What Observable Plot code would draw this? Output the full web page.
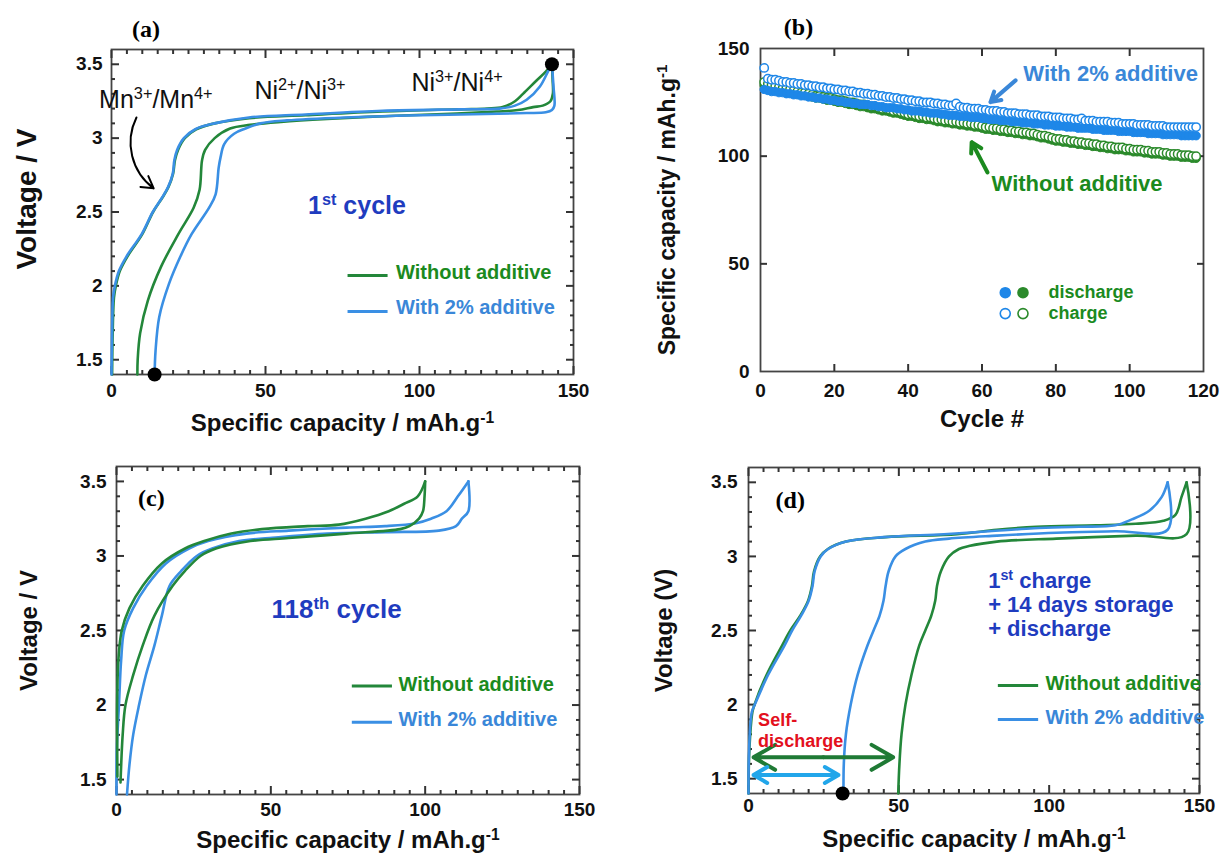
<!DOCTYPE html>
<html><head><meta charset="utf-8">
<script src="https://cdn.jsdelivr.net/npm/d3@7"></script>
<script src="https://cdn.jsdelivr.net/npm/@observablehq/plot@0.6"></script>
<style>
body{margin:0;background:#fff;}
#fig{position:relative;width:1220px;height:856px;overflow:hidden;background:#fff;}
.panel{position:absolute;}
.panel svg{display:block;max-width:none;overflow:visible;}
g[aria-label="x-axis label"], g[aria-label="y-axis label"]{font-size:24px;}
#pa g[aria-label="y-axis label"]{font-size:28px;}
#pb g[aria-label="y-axis label"]{font-size:23px;}
</style></head><body>
<div id="fig">
<div class="panel" id="pa" style="left:0;top:0"></div>
<div class="panel" id="pb" style="left:600px;top:0"></div>
<div class="panel" id="pc" style="left:0;top:430px"></div>
<div class="panel" id="pd" style="left:600px;top:430px"></div>
</div>
<script>
// ---------- colours / fonts ----------
const FONT = "'Liberation Sans', Arial, sans-serif";
const SERIF = "'Liberation Serif', 'Times New Roman', serif";
const GREEN = "#23873a", BLUE = "#3a8fe4", GREEN_T = "#1b8a1e", BLUE_T = "#3a87d8", NAVY = "#1f3cbf", RED = "#e3101d";
const BLUE_M = "#1e87e8", GREEN_M = "#2b8a2b";
const AXIS = "#333";

// ---------- tick labels ----------
const capTicks = [0, 50, 100, 150];
const voltTicks = [1.5, 2, 2.5, 3, 3.5];
const cycleTicks = [0, 20, 40, 60, 80, 100, 120];
const capTicksB = [0, 50, 100, 150];

// ---------- (a) 1st cycle: [capacity mAh/g, voltage V] ----------
const a_green_charge = [[0.2,1.4],[0.4,1.7],[0.8,1.92],[1.4,2.0],[2.7,2.1],[5.2,2.2],[10,2.35],[13.5,2.5],[16.6,2.6],[18.5,2.67],[20,2.76],[20.6,2.85],[21.6,2.92],[23.8,3.0],[27.5,3.06],[33.5,3.1],[44.7,3.135],[63,3.155],[88,3.18],[113,3.195],[122,3.2],[127,3.21],[131,3.25],[133.6,3.3],[138,3.39],[141,3.45],[143,3.5]];
const a_blue_charge = [[0,1.4],[0.2,1.7],[0.5,1.92],[1.1,2.0],[2.4,2.1],[4.9,2.2],[9.8,2.35],[13.4,2.5],[16.5,2.6],[18.4,2.67],[19.9,2.76],[20.4,2.85],[21.3,2.92],[23.5,3.0],[27.2,3.06],[33.4,3.1],[44.6,3.14],[63,3.16],[88,3.185],[113,3.195],[126,3.2],[131,3.22],[134.8,3.26],[139.1,3.35],[141.7,3.45],[143,3.5]];
const a_green_discharge = [[143,3.5],[143.2,3.4],[143.3,3.3],[142.5,3.25],[140,3.22],[136.9,3.21],[132,3.19],[125,3.18],[110,3.165],[90,3.15],[70,3.13],[55,3.11],[45,3.09],[38.5,3.065],[33.5,3.0],[30.4,2.92],[29.4,2.85],[28.6,2.65],[26.7,2.53],[21.7,2.35],[16.1,2.13],[11.8,1.9],[9.3,1.68],[8.5,1.5],[8.4,1.4]];
const a_blue_discharge = [[143,3.5],[143.5,3.35],[143.8,3.22],[143,3.19],[141,3.175],[135,3.17],[125.5,3.165],[100.6,3.155],[75.8,3.14],[57,3.12],[48.4,3.1],[43.5,3.065],[39.8,3.03],[36.6,2.96],[35.4,2.87],[34.8,2.8],[33.8,2.62],[31.7,2.53],[26,2.35],[22.4,2.2],[18.6,2.01],[15.5,1.79],[14.3,1.56],[14,1.4]];
const a_points = [[14,1.4],[143,3.5]];

// ---------- (b) capacity vs cycle, cycles 1..118 ----------
const b_blue_charge = [141,136,135.5,135.5,135,134.5,134.5,134,134,133.5,
 133.5,133,133,132.5,132.5,132,132,131.5,131.5,131,
 131,130.5,130.5,130,130,129.5,129.5,129,129,128.5,
 128.5,128,128,127.5,127.5,127,127,126.5,126.5,126,
 126,125.5,125.5,125,125,125,124.5,124.5,124,124,
 123.5,123.5,124.5,123,122.5,122.5,122,122,122,121.5,
 121.5,121,121,121,120.5,120.5,120,120,120,119.5,
 119.5,119.5,119,119,119,118.5,118.5,118.5,118,118,
 118,117.5,117.5,117.5,117,117,117.5,116.5,116.5,116.5,
 116,116,116,116,115.5,115.5,115.5,115,115,115,
 115,114.5,114.5,114.5,114.5,114,114,114,114,113.5,
 113.5,113.5,113.5,113.5,113.5,113.5,113.5,113.5];
const b_blue_discharge = [131,130.5,130,130,129.5,129.5,129,129,128.5,128.5,
 128,128,127.5,127.5,127,127,126.5,126.5,126,126,
 125.5,125.5,125,125,124.5,124.5,124,124,124,123.5,
 123.5,123,123,122.5,122.5,122.5,122,122,121.5,121.5,
 121,121,121,120.5,120.5,120,120,120,119.5,119.5,
 119,119,119,118.5,118.5,118.5,118,118,118,117.5,
 117.5,117,117,117,116.5,116.5,116.5,116,116,116,
 115.5,115.5,115.5,115,115,115,114.5,114.5,114.5,114,
 114,114,113.5,113.5,113.5,113,113,113,113,112.5,
 112.5,112.5,112,112,112,112,111.5,111.5,111.5,111.5,
 111,111,111,111,110.5,110.5,110.5,110.5,110,110,
 110,110,110,109.5,109.5,109.5,109.5,109.5];
const b_green_discharge = [133,132.5,132,131.5,131,130.5,130.5,130,129.5,129,
 128.5,128.5,128,127.5,127,127,126.5,126,126,125.5,
 125,125,124.5,124,124,123.5,123,123,122.5,122,
 122,121.5,121,121,120.5,120,120,119.5,119,118.5,
 118.5,118,117.5,117.5,117,117,116.5,116,116,115.5,
 115.5,115,115,114.5,114.5,114,114,113.5,113.5,113,
 112.5,112.5,112,112,111.5,111.5,111,111,110.5,110.5,
 110,110,109.5,109.5,109,108.5,108.5,108,107.5,107,
 107,106.5,106.5,106,106,105.5,105.5,105,105,104.5,
 104.5,104,104,103.5,103.5,103,103,103,102.5,102.5,
 102,102,102,101.5,101.5,101,101,101,100.5,100.5,
 100,100,100,99.5,99.5,99.5,99,99];
const b_green_charge = [134.5,133.5,133,132.5,132,131.5,131.5,131,130.5,130,
 129.5,129.5,129,128.5,128,128,127.5,127,127,126.5,
 126,126,125.5,125,125,124.5,124,124,123.5,123,
 123,122.5,122,122,121.5,121,121,120.5,120,119.5,
 119.5,119,118.5,118.5,118,118,117.5,117,117,116.5,
 116.5,116,116,115.5,115.5,115,115,114.5,114.5,114,
 113.5,113.5,113,113,112.5,112.5,112,112,111.5,111.5,
 111,111,110.5,110.5,110,109.5,109.5,109,108.5,108,
 108,107.5,107.5,107,107,106.5,106.5,106,106,105.5,
 105.5,105,105,104.5,104.5,104,104,104,103.5,103.5,
 103,103,103,102.5,102.5,102,102,102,101.5,101.5,
 101,101,101,100.5,100.5,100.5,100,100];

// ---------- (c) 118th cycle ----------
const c_green_charge = [[0.3,1.52],[0.2,1.8],[0.2,2.0],[0.6,2.3],[1.7,2.5],[4.2,2.65],[8.5,2.8],[14.7,2.95],[22.2,3.05],[28.4,3.1],[37.2,3.15],[47.1,3.18],[62,3.2],[72,3.21],[80.7,3.25],[88.2,3.3],[93.2,3.35],[97.6,3.4],[100,3.5]];
const c_green_discharge = [[100,3.5],[99.8,3.4],[99.3,3.3],[98,3.25],[94.9,3.2],[91.9,3.18],[74.5,3.15],[55.8,3.12],[43.4,3.1],[32.2,3.05],[27.2,3.0],[22.2,2.9],[18.2,2.8],[12.3,2.6],[8.5,2.4],[5.4,2.2],[2.9,2.0],[2.0,1.8],[1.3,1.48]];
const c_blue_charge = [[0,1.4],[0.1,1.7],[0.8,2.0],[1.5,2.3],[2.5,2.5],[5.4,2.65],[9.8,2.8],[16,2.95],[23.5,3.05],[29.7,3.1],[42.1,3.15],[55.8,3.17],[74.5,3.19],[87,3.2],[97,3.22],[101.9,3.25],[106.9,3.3],[110.6,3.4],[114,3.5]];
const c_blue_discharge = [[114,3.5],[114,3.3],[111.9,3.25],[110,3.2],[104.4,3.17],[87,3.16],[68.3,3.15],[49.6,3.12],[39.7,3.1],[31,3.05],[26,3.0],[21,2.9],[17.2,2.8],[14.7,2.6],[12.3,2.4],[9.5,2.2],[7.3,2.0],[5.4,1.8],[4.2,1.6],[3.4,1.4]];

// ---------- (d) 1st charge + 14 days storage + discharge ----------
const d_green_charge = [[0,1.4],[0.3,1.7],[1.3,1.95],[2,2.0],[6,2.2],[11.2,2.4],[13.9,2.5],[17.2,2.6],[19.8,2.7],[21.1,2.8],[21.8,2.9],[23.8,3.0],[26.4,3.05],[32.4,3.1],[45.6,3.13],[69.4,3.15],[82.6,3.18],[95.8,3.2],[115.6,3.21],[128.8,3.22],[138,3.24],[142,3.28],[144,3.4],[145.7,3.5]];
const d_green_discharge = [[145.7,3.5],[145.7,3.15],[128.8,3.14],[102.4,3.12],[82.6,3.1],[73.3,3.07],[70,3.05],[66.7,3.0],[64,2.9],[62.7,2.8],[62.1,2.7],[60.8,2.6],[58.8,2.5],[56.8,2.4],[54.2,2.2],[52.2,2.0],[50.9,1.8],[50.2,1.6],[49.8,1.4]];
const d_blue_charge = [[0,1.4],[0.2,1.7],[1.1,1.95],[2.1,2.0],[6.5,2.2],[12,2.4],[14.5,2.5],[17.5,2.6],[20,2.7],[21.3,2.8],[22,2.9],[24,3.0],[26.5,3.05],[32.5,3.1],[45,3.13],[65,3.15],[80,3.17],[95,3.19],[110,3.2],[122,3.21],[127.5,3.25],[133.4,3.31],[137.4,3.4],[139.4,3.5]];
const d_blue_discharge = [[139.4,3.5],[139.4,3.18],[122,3.17],[102.4,3.16],[82.6,3.14],[66.7,3.12],[58.8,3.1],[52.2,3.05],[48.9,3.0],[46.6,2.9],[45.6,2.8],[44.9,2.7],[43.6,2.6],[41.6,2.5],[39.6,2.4],[36.3,2.2],[34,2.0],[32.4,1.8],[31.7,1.6],[31.6,1.4]];
const d_points = [[31.3,1.4]];
const d_selfDischarge = [{end:49.8, v:1.644, color:"#1f7a35"}, {end:31.6, v:1.525, color:"#22a6ea"}];

// ---------- helpers ----------
// inward frame ticks on all four sides: axes with negative tick size and no text
function frameTicks({xMaj, xMin = [], yMaj, yMin = [], maj = 8, mnr = 4}) {
  const o = {label: null, fill: "none", stroke: AXIS, strokeWidth: 2};
  const m = [];
  for (const anchor of ["bottom", "top"]) {
    m.push(Plot.axisX({...o, anchor, ticks: xMaj, tickSize: -maj}));
    if (xMin.length) m.push(Plot.axisX({...o, anchor, ticks: xMin, tickSize: -mnr}));
  }
  for (const anchor of ["left", "right"]) {
    m.push(Plot.axisY({...o, anchor, ticks: yMaj, tickSize: -maj}));
    if (yMin.length) m.push(Plot.axisY({...o, anchor, ticks: yMin, tickSize: -mnr}));
  }
  return m;
}
const xMinorCap = d3.range(5, 150, 5).filter(d => d % 50 !== 0);
const yMinorV = d3.range(15, 36).map(d => d / 10).filter(d => Math.round(d * 10) % 5 !== 0);
const line = (arr, stroke, w = 2.6) => Plot.line(arr, {x: d => d[0], y: d => d[1], stroke, strokeWidth: w, curve: "catmull-rom"});
const baseStyle = {fontFamily: FONT, fontSize: "19px", fontWeight: "bold", color: "#111", background: "transparent", overflow: "visible"};

function supify(root) {
  root.querySelectorAll("text, tspan").forEach(el => {
    if (el.children.length) return;
    const s = el.textContent;
    if (!s.includes("^{")) return;
    el.textContent = "";
    for (const p of s.split(/(\^\{[^}]*\})/)) {
      if (!p) continue;
      const t = document.createElementNS("http://www.w3.org/2000/svg", "tspan");
      if (p.startsWith("^{")) {
        t.textContent = p.slice(2, -1);
        t.setAttribute("baseline-shift", "super");
        t.setAttribute("font-size", "65%");
      } else t.textContent = p;
      el.appendChild(t);
    }
  });
}
function legend(rows, x1, x2, xt, size = 20) {
  return [
    Plot.ruleY(rows, {y: "ly", x1: () => x1, x2: () => x2, stroke: "c", strokeWidth: 3}),
    Plot.text(rows, {x: () => xt, y: "ty", text: "label", fill: "tc", textAnchor: "start", fontSize: size, fontWeight: "bold", fontFamily: FONT})
  ];
}

// ---------- (a) ----------
{
  const notes = [
    {x: 14.4, y: 3.26, t: "Mn^{3+}/Mn^{4+}"},
    {x: 61.2, y: 3.32, t: "Ni^{2+}/Ni^{3+}"},
    {x: 112.2, y: 3.37, t: "Ni^{3+}/Ni^{4+}"}
  ];
  const leg = [
    {ly: 2.07, ty: 2.09, label: "Without additive", c: GREEN, tc: GREEN_T},
    {ly: 1.826, ty: 1.853, label: "With 2% additive", c: BLUE, tc: BLUE_T}
  ];
  const p = Plot.plot({
    width: 600, height: 430, marginLeft: 111, marginRight: 27, marginTop: 49, marginBottom: 56,
    x: {domain: [0, 150]}, y: {domain: [1.4, 3.6]}, style: baseStyle,
    marks: [
      Plot.frame({stroke: "#444", strokeWidth: 1.8}),
      ...frameTicks({xMaj: capTicks, xMin: xMinorCap, yMaj: voltTicks, yMin: yMinorV}),
      Plot.axisX({ticks: capTicks, tickSize: 0, tickPadding: 9, tickFormat: d => d, fontSize: 19,
        label: "Specific capacity / mAh.g^{-1}", labelAnchor: "center", labelOffset: 56, labelArrow: "none"}),
      Plot.axisY({ticks: voltTicks, tickSize: 0, tickPadding: 9, tickFormat: d => d, fontSize: 19,
        label: "Voltage / V", labelAnchor: "center", labelOffset: 95, labelArrow: "none"}),
      line(a_green_charge, GREEN), line(a_green_discharge, GREEN),
      line(a_blue_charge, BLUE), line(a_blue_discharge, BLUE),
      Plot.dot(a_points, {x: d => d[0], y: d => d[1], r: 7, fill: "black"}),
      Plot.text(notes, {x: "x", y: "y", text: "t", fontSize: 25, fontWeight: "normal", fill: "#111", fontFamily: FONT}),
      Plot.arrow([{x1: 8.1, y1: 3.14, x2: 13.7, y2: 2.66}], {x1: "x1", y1: "y1", x2: "x2", y2: "y2", bend: -40, stroke: "black", strokeWidth: 2, headLength: 10}),
      Plot.text(["1^{st} cycle"], {x: () => 79.7, y: () => 2.54, text: d => d, fontSize: 25, fill: NAVY, fontWeight: "bold", fontFamily: FONT}),
      ...legend(leg, 76.8, 89.8, 92.4),
      Plot.text(["(a)"], {x: () => 11.2, y: () => 3.74, text: d => d, fontSize: 24, fontFamily: SERIF, fontWeight: "bold", fill: "black"})
    ]
  });
  supify(p);
  p.querySelectorAll('g[aria-label="y-axis label"] text').forEach(t => t.setAttribute("dx", "13"));
  document.getElementById("pa").appendChild(p);
}

// ---------- (b) ----------
{
  const rows = v => v.map((c, i) => ({cycle: i + 1, cap: c}));
  const opt = {x: "cycle", y: "cap", r: 4.2};
  const legDots = [
    {x: 66.3, y: 36.6, fill: BLUE_M, stroke: BLUE_M}, {x: 71.1, y: 36.6, fill: GREEN_M, stroke: GREEN_M},
    {x: 66.3, y: 26.9, fill: "white", stroke: BLUE_M}, {x: 71.1, y: 26.9, fill: "white", stroke: GREEN_M}
  ];
  const p = Plot.plot({
    width: 620, height: 430, marginLeft: 160, marginRight: 17, marginTop: 48, marginBottom: 59,
    x: {domain: [0, 120]}, y: {domain: [0, 150]}, style: baseStyle,
    marks: [
      Plot.frame({stroke: "#444", strokeWidth: 1.8}),
      ...frameTicks({xMaj: cycleTicks.filter(d => d > 0 && d < 120), yMaj: capTicksB.filter(d => d > 0 && d < 150), maj: 7}),
      Plot.axisX({ticks: cycleTicks, tickSize: 0, tickPadding: 12, tickFormat: d => d, fontSize: 19,
        label: "Cycle #", labelAnchor: "center", labelOffset: 55, labelArrow: "none"}),
      Plot.axisY({ticks: capTicksB, tickSize: 0, tickPadding: 11, tickFormat: d => d, fontSize: 19,
        label: "Specific capacity / mAh.g^{-1}", labelAnchor: "center", labelOffset: 102, labelArrow: "none"}),
      Plot.dot(rows(b_green_discharge), {...opt, fill: GREEN_M, stroke: GREEN_M, strokeWidth: 1}),
      Plot.dot(rows(b_green_charge), {...opt, fill: "white", stroke: GREEN_M, strokeWidth: 1.5}),
      Plot.dot(rows(b_blue_discharge), {...opt, fill: BLUE_M, stroke: BLUE_M, strokeWidth: 1}),
      Plot.dot(rows(b_blue_charge), {...opt, fill: "white", stroke: BLUE_M, strokeWidth: 1.5}),
      Plot.arrow([{x1: 69.1, y1: 135.2, x2: 62.3, y2: 125.1}], {x1: "x1", y1: "y1", x2: "x2", y2: "y2", stroke: BLUE_T, strokeWidth: 4, headLength: 9}),
      Plot.arrow([{x1: 61.5, y1: 92.4, x2: 57.2, y2: 106.5}], {x1: "x1", y1: "y1", x2: "x2", y2: "y2", stroke: GREEN_T, strokeWidth: 4, headLength: 9}),
      Plot.text(["With 2% additive"], {x: () => 71.2, y: () => 138.4, text: d => d, textAnchor: "start", fontSize: 22, fill: BLUE_T, fontFamily: FONT}),
      Plot.text(["Without additive"], {x: () => 62.6, y: () => 86.9, text: d => d, textAnchor: "start", fontSize: 22, fill: GREEN_T, fontFamily: FONT}),
      Plot.dot(legDots, {x: "x", y: "y", r: 5, fill: "fill", stroke: "stroke", strokeWidth: 1.6}),
      Plot.text(["discharge", "charge"], {x: () => 78, y: (d, i) => [36.6, 26.9][i], text: d => d, textAnchor: "start", fontSize: 18, fill: GREEN_T, fontFamily: FONT}),
      Plot.text(["(b)"], {x: () => 10.3, y: () => 159.8, text: d => d, fontSize: 24, fontFamily: SERIF, fontWeight: "bold", fill: "black"})
    ]
  });
  supify(p); document.getElementById("pb").appendChild(p);
}

// ---------- (c) ----------
{
  const leg = [
    {ly: 2.128, ty: 2.14, label: "Without additive", c: GREEN, tc: GREEN_T},
    {ly: 1.885, ty: 1.90, label: "With 2% additive", c: BLUE, tc: BLUE_T}
  ];
  const p = Plot.plot({
    width: 600, height: 426, marginLeft: 116, marginRight: 21, marginTop: 36, marginBottom: 62,
    x: {domain: [0, 150]}, y: {domain: [1.4, 3.6]}, style: baseStyle,
    marks: [
      Plot.frame({stroke: "#444", strokeWidth: 1.8}),
      ...frameTicks({xMaj: capTicks, xMin: xMinorCap, yMaj: voltTicks, yMin: yMinorV}),
      Plot.axisX({ticks: capTicks, tickSize: 0, tickPadding: 8, tickFormat: d => d, fontSize: 19,
        label: "Specific capacity / mAh.g^{-1}", labelAnchor: "center", labelOffset: 53, labelArrow: "none"}),
      Plot.axisY({ticks: voltTicks, tickSize: 0, tickPadding: 10, tickFormat: d => d, fontSize: 19,
        label: "Voltage / V", labelAnchor: "center", labelOffset: 97, labelArrow: "none"}),
      line(c_blue_charge, BLUE), line(c_blue_discharge, BLUE),
      line(c_green_charge, GREEN), line(c_green_discharge, GREEN),
      Plot.text(["118^{th} cycle"], {x: () => 71.3, y: () => 2.64, text: d => d, fontSize: 26, fill: NAVY, fontWeight: "bold", fontFamily: FONT}),
      ...legend(leg, 76.4, 89.4, 91.4),
      Plot.text(["(c)"], {x: () => 11.3, y: () => 3.385, text: d => d, fontSize: 24, fontFamily: SERIF, fontWeight: "bold", fill: "black"})
    ]
  });
  supify(p); document.getElementById("pc").appendChild(p);
}

// ---------- (d) ----------
{
  const leg = [
    {ly: 2.128, ty: 2.14, label: "Without additive", c: GREEN, tc: GREEN_T},
    {ly: 1.899, ty: 1.91, label: "With 2% additive", c: BLUE, tc: BLUE_T}
  ];
  const arrows = d_selfDischarge.flatMap(s => [
    {x1: s.end / 2, x2: 0, y: s.v, c: s.color},
    {x1: s.end / 2, x2: s.end, y: s.v, c: s.color}
  ]);
  const p = Plot.plot({
    width: 620, height: 426, marginLeft: 148, marginRight: 21, marginTop: 37, marginBottom: 63,
    x: {domain: [0, 150]}, y: {domain: [1.4, 3.6]}, style: baseStyle,
    marks: [
      Plot.frame({stroke: "#444", strokeWidth: 1.8}),
      ...frameTicks({xMaj: capTicks, xMin: xMinorCap, yMaj: voltTicks, yMin: yMinorV}),
      Plot.axisX({ticks: capTicks, tickSize: 0, tickPadding: 5, tickFormat: d => d, fontSize: 19,
        label: "Specific capacity / mAh.g^{-1}", labelAnchor: "center", labelOffset: 53, labelArrow: "none"}),
      Plot.axisY({ticks: voltTicks, tickSize: 0, tickPadding: 11, tickFormat: d => d, fontSize: 19,
        label: "Voltage (V)", labelAnchor: "center", labelOffset: 94, labelArrow: "none"}),
      line(d_green_charge, GREEN), line(d_green_discharge, GREEN),
      line(d_blue_charge, BLUE), line(d_blue_discharge, BLUE),
      Plot.arrow(arrows, {x1: "x1", x2: "x2", y1: "y", y2: "y", stroke: "c", strokeWidth: 4, headLength: 10, insetEnd: 5}),
      Plot.dot(d_points, {x: d => d[0], y: d => d[1], r: 7, fill: "black"}),
      Plot.text(["Self-\ndischarge"], {x: () => 3.2, y: () => 1.831, text: d => d, textAnchor: "start", lineHeight: 1.2, fontSize: 18, fill: RED, fontWeight: "bold", fontFamily: FONT}),
      Plot.text(["1^{st} charge\n+ 14 days storage\n+ discharge"], {x: () => 79.7, y: () => 2.676, text: d => d, textAnchor: "start", lineHeight: 1.1, fontSize: 22, fill: NAVY, fontWeight: "bold", fontFamily: FONT}),
      ...legend(leg, 83.1, 96.5, 98.8),
      Plot.text(["(d)"], {x: () => 13.9, y: () => 3.38, text: d => d, fontSize: 24, fontFamily: SERIF, fontWeight: "bold", fill: "black"})
    ]
  });
  supify(p); document.getElementById("pd").appendChild(p);
}
</script>
</body></html>
